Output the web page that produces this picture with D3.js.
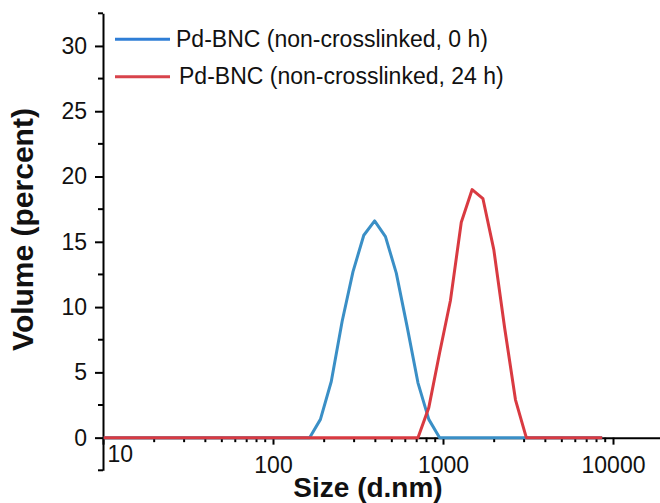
<!DOCTYPE html>
<html>
<head>
<meta charset="utf-8">
<script src="https://cdn.jsdelivr.net/npm/d3@7"></script>
<style>
  html, body { margin: 0; padding: 0; background: #fff; }
  svg { display: block; font-family: "Liberation Sans", Arial, sans-serif; }
</style>
</head>
<body>
<div id="chart"></div>
<script>
// ---- Data ----
const sizes = [10.10, 11.70, 13.54, 15.69, 18.17, 21.04, 24.36, 28.21, 32.67, 37.84,
               43.82, 50.75, 58.77, 68.06, 78.82, 91.28, 105.7, 122.4, 141.8, 164.2,
               190.1, 220.2, 255.0, 295.3, 342.0, 396.1, 458.7, 531.2, 615.1, 712.4,
               825.0, 955.4, 1106, 1281, 1484, 1718, 1990, 2305, 2669, 3091,
               3580, 4145, 4801, 5560, 6439, 7456, 8635];
const volume0h  = [0, 0, 0, 0, 0, 0, 0, 0, 0, 0,
                   0, 0, 0, 0, 0, 0, 0, 0, 0, 0,
                   1.4, 4.3, 8.9, 12.7, 15.5, 16.6, 15.4, 12.6, 8.5, 4.2,
                   1.4, 0, 0, 0, 0, 0, 0, 0, 0, 0,
                   0, 0, 0, 0, 0, 0, 0];
const volume24h = [0, 0, 0, 0, 0, 0, 0, 0, 0, 0,
                   0, 0, 0, 0, 0, 0, 0, 0, 0, 0,
                   0, 0, 0, 0, 0, 0, 0, 0, 0, 0,
                   2.3, 6.5, 10.5, 16.5, 19.0, 18.3, 14.4, 8.4, 2.9, 0,
                   0, 0, 0, 0, 0, 0, 0];
const seriesNames = ["Pd-BNC (non-crosslinked, 0 h)", "Pd-BNC (non-crosslinked, 24 h)"];
const seriesColors = ["#3A8FC6", "#D93A41"];
const legendColors = ["#2F7ED6", "#D8434B"];
const xTickValues = [10, 100, 1000, 10000];
const yTickValues = [0, 5, 10, 15, 20, 25, 30];
const yMinorTicks = [-2.5, 2.5, 7.5, 12.5, 17.5, 22.5, 27.5, 32.5];
const xLabel = "Size (d.nm)";
const yLabel = "Volume (percent)";

// ---- Chart ----
const W = 660, H = 503;
const svg = d3.select("#chart").append("svg").attr("width", W).attr("height", H);

const x = d3.scaleLog().domain([10, 18900]).range([103, 660]);
const y = d3.scaleLinear().domain([-2.5, 32.5]).range([470.3, 13.3]);

const FONT = 23;

// X axis (at y = 0)
const xAxisG = svg.append("g").attr("transform", `translate(0,${y(0)})`)
  .call(d3.axisBottom(x).tickValues(xTickValues).tickFormat(d3.format("d"))
        .tickSize(7).tickSizeOuter(0).tickPadding(12));
xAxisG.select(".domain").attr("stroke", "#000").attr("stroke-width", 2);
xAxisG.selectAll(".tick line").attr("stroke", "#000").attr("stroke-width", 2);
xAxisG.selectAll(".tick text").attr("font-size", FONT).attr("fill", "#111")
  .attr("font-family", '"Liberation Sans", Arial, sans-serif');
// first label ("10") sits to the right of the axis as in the reference
xAxisG.selectAll(".tick text").filter(d => d === xTickValues[0])
  .attr("text-anchor", "start").attr("x", 4).attr("y", 8);

// X minor ticks
const xMinor = [];
xTickValues.forEach(dec => { for (let m = 2; m <= 9; m++) { const v = dec * m; if (v <= x.domain()[1]) xMinor.push(v); } });
svg.append("g").selectAll("line").data(xMinor).join("line")
  .attr("x1", d => x(d)).attr("x2", d => x(d))
  .attr("y1", y(0)).attr("y2", y(0) + 4.5)
  .attr("stroke", "#000").attr("stroke-width", 2);

// Y axis
const yAxisG = svg.append("g").attr("transform", `translate(${x(10)},0)`)
  .call(d3.axisLeft(y).tickValues(yTickValues).tickSize(8).tickSizeOuter(0).tickPadding(8));
yAxisG.select(".domain").attr("stroke", "#000").attr("stroke-width", 2);
yAxisG.selectAll(".tick line").attr("stroke", "#000").attr("stroke-width", 2);
yAxisG.selectAll(".tick text").attr("font-size", FONT).attr("fill", "#111")
  .attr("font-family", '"Liberation Sans", Arial, sans-serif');

// Y minor ticks
svg.append("g").selectAll("line").data(yMinorTicks).join("line")
  .attr("x1", x(10) - 5).attr("x2", x(10))
  .attr("y1", d => y(d)).attr("y2", d => y(d))
  .attr("stroke", "#000").attr("stroke-width", 2);

// Lines
const line = d3.line().x(d => x(d[0])).y(d => y(d[1]));
const series = [volume0h, volume24h];
series.forEach((vals, i) => {
  svg.append("path")
    .datum(sizes.map((s, j) => [s, vals[j]]))
    .attr("d", line)
    .attr("fill", "none")
    .attr("stroke", seriesColors[i])
    .attr("stroke-width", 3)
    .attr("stroke-linejoin", "round");
});

// Legend
const legendRows = [{ y: 39.3, tx: 176, ty: 47.3 }, { y: 76.7, tx: 179, ty: 84.3 }];
seriesNames.forEach((name, i) => {
  const r = legendRows[i];
  svg.append("line").attr("x1", 115).attr("x2", 170).attr("y1", r.y).attr("y2", r.y)
    .attr("stroke", legendColors[i]).attr("stroke-width", 3);
  svg.append("text").attr("x", r.tx).attr("y", r.ty).attr("font-size", FONT)
    .attr("fill", "#111").text(name);
});

// Axis titles
svg.append("text").attr("x", 368).attr("y", 496.5).attr("text-anchor", "middle")
  .attr("font-size", 28).attr("font-weight", "bold").attr("fill", "#111").text(xLabel);
svg.append("text").attr("transform", "translate(33,229.5) rotate(-90)")
  .attr("text-anchor", "middle").attr("font-size", 30).attr("font-weight", "bold")
  .attr("fill", "#111").text(yLabel);
</script>
</body>
</html>
